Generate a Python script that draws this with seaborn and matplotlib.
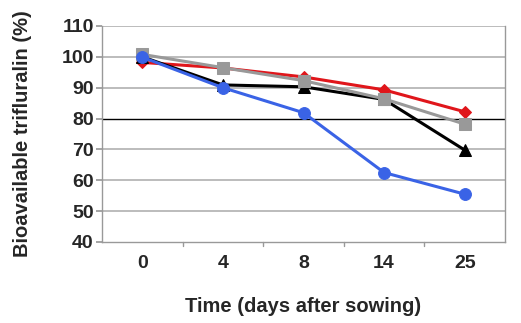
import matplotlib
matplotlib.use("Agg")
import matplotlib.pyplot as plt
import seaborn as sns
import pandas as pd

days = ["0", "4", "8", "14", "25"]
red_vals = [98.2, 96.4, 93.5, 89.3, 82.2]
black_vals = [100.0, 90.9, 90.3, 86.2, 69.8]
gray_vals = [100.8, 96.5, 92.3, 86.4, 78.2]
blue_vals = [99.9, 90.0, 81.9, 62.5, 55.5]

series = [
    ("red", red_vals, "#e0161b", "D", 6),
    ("black", black_vals, "#000000", "^", 8),
    ("gray", gray_vals, "#999999", "s", 8),
    ("blue", blue_vals, "#3a63e6", "o", 8.5),
]

sns.set_theme(style="white")
plt.rcParams["font.family"] = ["Liberation Sans", "DejaVu Sans"]

fig = plt.figure(figsize=(5.21, 3.23), dpi=100)
ax = fig.add_axes([102/521, 1 - 242/323, 403/521, 216/323])

for name, vals, col, mk, ms in series:
    df = pd.DataFrame({"x": list(range(len(days))), "y": vals})
    sns.lineplot(data=df, x="x", y="y", ax=ax, color=col, marker=mk,
                 markersize=ms, markeredgecolor=col, linewidth=2.2, zorder=3)

ax.set_xlim(-0.5, len(days) - 0.5)
ax.set_ylim(40, 110)
ax.set_yticks(range(40, 111, 10))
ax.set_xticks(range(len(days)))
ax.set_xticklabels(days)
for y in range(50, 111, 10):
    ax.axhline(y, color="#000000" if y == 80 else "#b0b0b0",
               linewidth=1.0 if y == 80 else 1.2, zorder=1)
for s in ["left", "right", "bottom"]:
    ax.spines[s].set_color("#999999")
    ax.spines[s].set_linewidth(1.0)
ax.spines["top"].set_visible(False)

# category separator ticks
for b in [0.5, 1.5, 2.5, 3.5]:
    ax.plot([b, b], [40, 38.6], color="#999999", lw=1, clip_on=False)
ax.tick_params(axis="x", length=0, pad=9)
ax.tick_params(axis="y", length=4, color="#999999", pad=2, left=True)
for lbl in ax.get_xticklabels() + ax.get_yticklabels():
    lbl.set_fontweight("bold")
    lbl.set_fontsize(14)
ax.set_xlabel("Time (days after sowing)", fontsize=14.5, fontweight="bold", labelpad=18)
ax.set_ylabel("Bioavailable trifluralin (%)", fontsize=14.5, fontweight="bold", labelpad=21)
if ax.get_legend():
    ax.get_legend().remove()

fig.savefig("out.png", dpi=100)
